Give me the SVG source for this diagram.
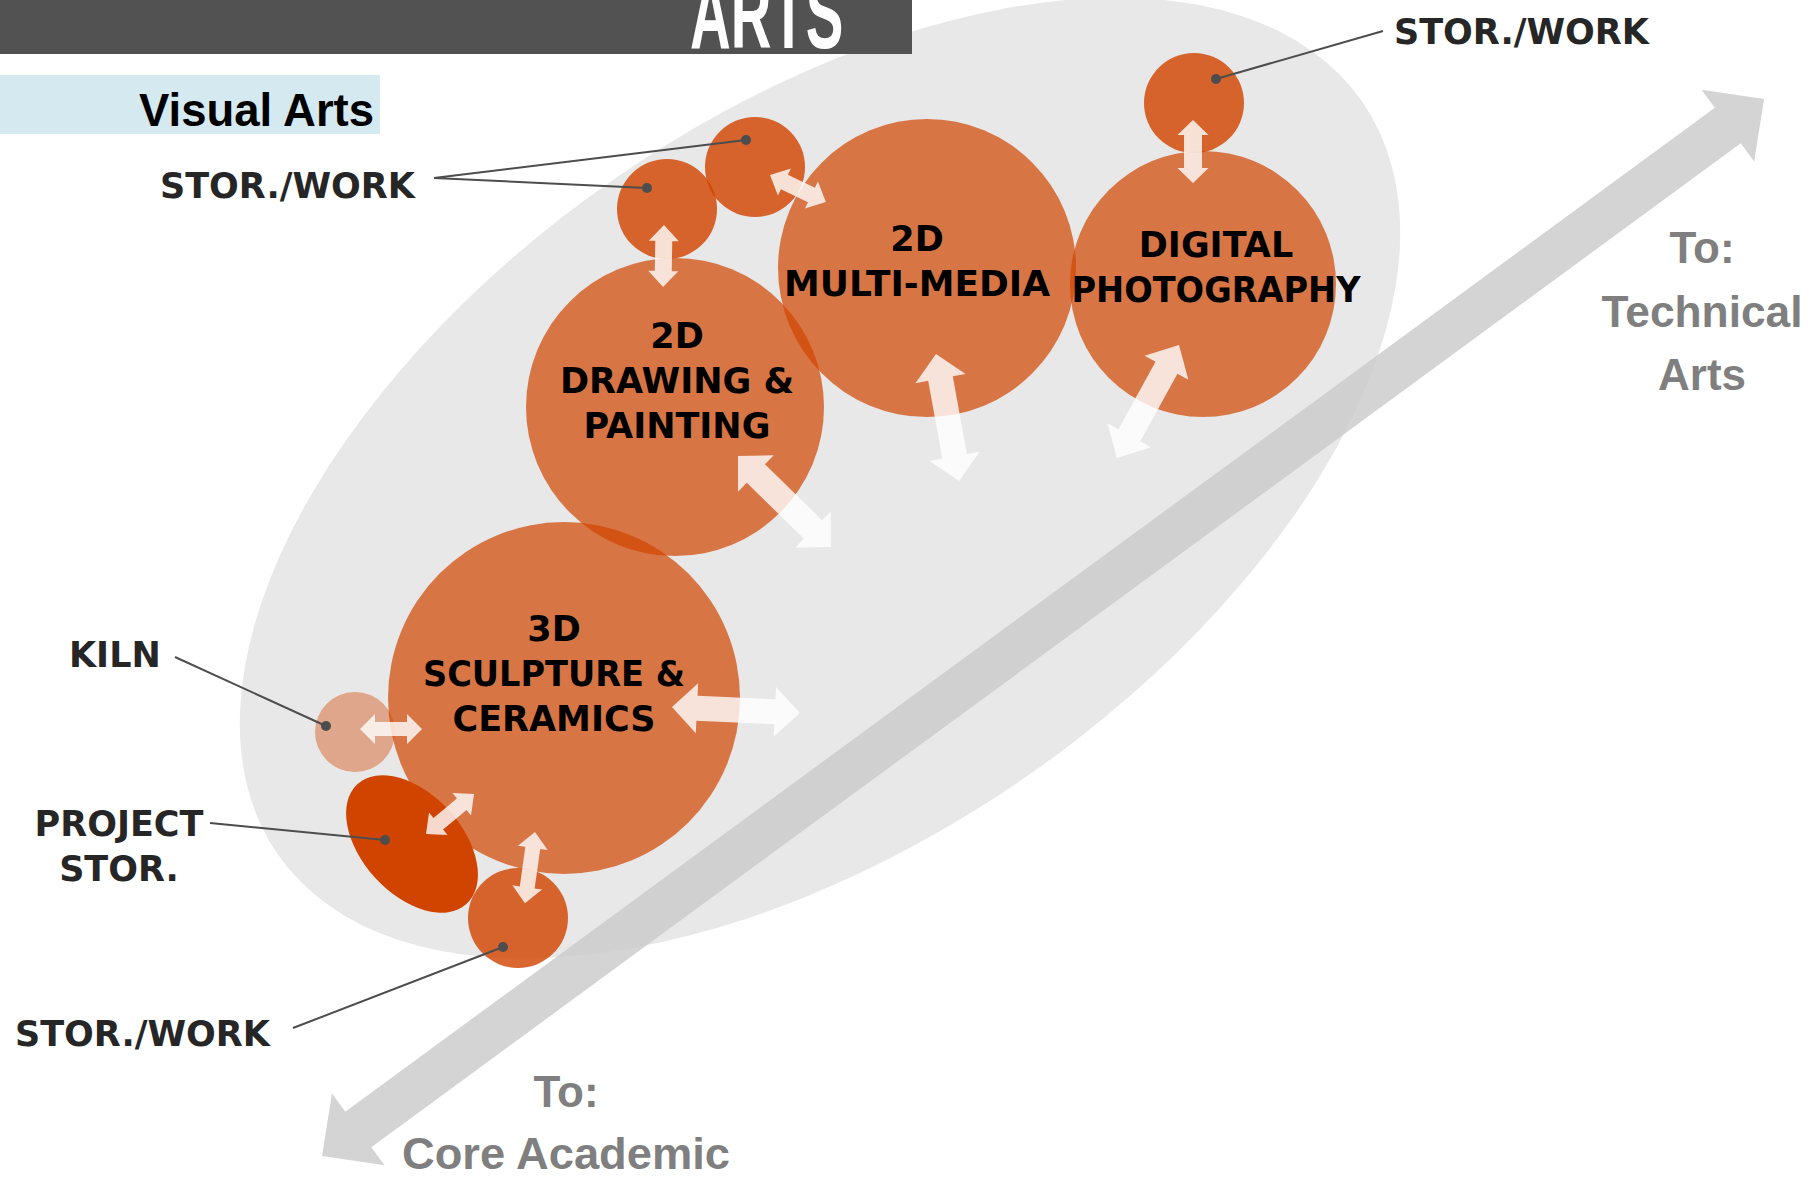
<svg xmlns="http://www.w3.org/2000/svg" width="1818" height="1184" viewBox="0 0 1818 1184">
<style>
.main{font-family:"DejaVu Sans","Liberation Sans",sans-serif;font-weight:bold;font-size:35px;fill:#000;text-anchor:middle}
.lbl{font-family:"DejaVu Sans","Liberation Sans",sans-serif;font-weight:bold;font-size:35px;fill:#262626}
.to{font-family:"Liberation Sans",Arial,sans-serif;font-weight:bold;font-size:44px;fill:#7f7f7f;text-anchor:middle}
.big{fill:#d24400;opacity:0.7}
.small{fill:#d24400;opacity:0.81}
.wa{fill:#ffffff;opacity:0.8}
.lead{stroke:#4d4d4d;stroke-width:2;fill:none}
.dot{fill:#4d4d4d}
</style>
<rect x="0" y="0" width="1818" height="1184" fill="#ffffff"/>
<g id="background">
<ellipse cx="820" cy="478" rx="660" ry="363" transform="rotate(-34.8 820 478)" fill="#e8e8e8"/>
<polygon points="0,0 45,-44.5 45,-22 1743,-22 1743,-44.5 1788,0 1743,44.5 1743,22 45,22 45,44.5" transform="translate(322,1156) rotate(-36.24)" fill="#cbcbcb" opacity="0.83"/>
</g>
<g id="header">
<rect x="0" y="0" width="912" height="54" fill="#525252"/>
<text transform="translate(690,48) scale(0.575,1)" font-family="Liberation Sans,Arial,sans-serif" font-weight="bold" font-size="98" fill="#ffffff">ARTS</text>
<rect x="0" y="75" width="380" height="59" fill="#d5eaf0"/>
<text x="139" y="126" font-family="Liberation Sans,Arial,sans-serif" font-weight="bold" font-size="46" fill="#000" textLength="235" lengthAdjust="spacingAndGlyphs">Visual Arts</text>
</g>
<g id="node-sculpture">
<circle class="big" cx="564" cy="698" r="176"/>
<text class="main" x="554" y="641">3D</text>
<text class="main" x="554" y="686" textLength="262" lengthAdjust="spacingAndGlyphs">SCULPTURE &amp;</text>
<text class="main" x="554" y="731">CERAMICS</text>
</g>
<g id="node-drawing">
<circle class="big" cx="675" cy="407" r="149"/>
<text class="main" x="677" y="348">2D</text>
<text class="main" x="677" y="393" textLength="234" lengthAdjust="spacingAndGlyphs">DRAWING &amp;</text>
<text class="main" x="677" y="438">PAINTING</text>
</g>
<g id="node-multimedia">
<circle class="big" cx="927" cy="268" r="149"/>
<text class="main" x="917" y="251">2D</text>
<text class="main" x="917" y="296" textLength="266" lengthAdjust="spacingAndGlyphs">MULTI-MEDIA</text>
</g>
<g id="node-photo">
<circle class="big" cx="1203" cy="284" r="133"/>
<text class="main" x="1216" y="257">DIGITAL</text>
<text class="main" x="1216" y="302" textLength="289" lengthAdjust="spacingAndGlyphs">PHOTOGRAPHY</text>
</g>
<g id="node-stor-1"><circle class="small" cx="667" cy="209" r="50"/></g>
<g id="node-stor-2"><circle class="small" cx="755" cy="167" r="50"/></g>
<g id="node-stor-3"><circle class="small" cx="1194" cy="103" r="50"/></g>
<g id="node-stor-4"><circle class="small" cx="518" cy="918" r="50"/></g>
<g id="node-kiln"><circle cx="355" cy="732" r="40" fill="#d24400" opacity="0.4"/></g>
<g id="node-project"><ellipse cx="412" cy="844" rx="81" ry="50" transform="rotate(47.6 412 844)" fill="#d04400"/></g>
<g id="connectors">
<polygon class="wa" points="0,0 16,-15 16,-8.5 46,-8.5 46,-15 62,0 46,15 46,8.5 16,8.5 16,15" transform="translate(664,225) rotate(90.9)"/>
<polygon class="wa" points="0,0 16,-15 16,-8 46,-8 46,-15 62,0 46,15 46,8 16,8 16,15" transform="translate(770,175) rotate(25.7)"/>
<polygon class="wa" points="0,0 15,-15.5 15,-9 48,-9 48,-15.5 63,0 48,15.5 48,9 15,9 15,15.5" transform="translate(1193,120) rotate(90)"/>
<polygon class="wa" points="0,0 25,-25.5 25,-12.5 104,-12.5 104,-25.5 129,0 104,25.5 104,12.5 25,12.5 25,25.5" transform="translate(936,354) rotate(79.7)"/>
<polygon class="wa" points="0,0 26,-25 26,-12.5 103,-12.5 103,-25 129,0 103,25 103,12.5 26,12.5 26,25" transform="translate(1179,345) rotate(118.8)"/>
<polygon class="wa" points="0,0 25,-25.5 25,-13 105,-13 105,-25.5 130,0 105,25.5 105,13 25,13 25,25.5" transform="translate(738,456) rotate(44.4)"/>
<polygon class="wa" points="0,0 25,-25 25,-12.5 103,-12.5 103,-25 128,0 103,25 103,12.5 25,12.5 25,25" transform="translate(672,707) rotate(2.7)"/>
<polygon class="wa" points="0,0 15,-15 15,-7 47,-7 47,-15 62,0 47,15 47,7 15,7 15,15" transform="translate(360,729)"/>
<polygon class="wa" points="0,0 16,-14.5 16,-7.5 46.5,-7.5 46.5,-14.5 62.5,0 46.5,14.5 46.5,7.5 16,7.5 16,14.5" transform="translate(426,834) rotate(-39.8)"/>
<polygon class="wa" points="0,0 16,-15 16,-7.5 56,-7.5 56,-15 72,0 56,15 56,7.5 16,7.5 16,15" transform="translate(535,832) rotate(98)"/>
<polyline class="lead" points="746,140 434,178 647,188"/>
<circle class="dot" cx="746" cy="140" r="5"/>
<circle class="dot" cx="647" cy="188" r="5"/>
<line class="lead" x1="1383" y1="31" x2="1216" y2="79"/>
<circle class="dot" cx="1216" cy="79" r="5"/>
<line class="lead" x1="175" y1="657" x2="326" y2="726"/>
<circle class="dot" cx="326" cy="726" r="5"/>
<line class="lead" x1="210" y1="823" x2="385" y2="840"/>
<circle class="dot" cx="385" cy="840" r="5"/>
<line class="lead" x1="293" y1="1028" x2="503" y2="947"/>
<circle class="dot" cx="503" cy="947" r="5"/>
</g>
<g id="labels">
<text class="lbl" x="160" y="198">STOR./WORK</text>
<text class="lbl" x="1394" y="44">STOR./WORK</text>
<text class="lbl" x="69" y="667">KILN</text>
<text class="lbl" x="119" y="836" text-anchor="middle">PROJECT</text>
<text class="lbl" x="119" y="881" text-anchor="middle">STOR.</text>
<text class="lbl" x="15" y="1046">STOR./WORK</text>
<text class="to" x="1702" y="263">To:</text>
<text class="to" x="1702" y="327" textLength="201" lengthAdjust="spacingAndGlyphs">Technical</text>
<text class="to" x="1702" y="390">Arts</text>
<text class="to" x="566" y="1107">To:</text>
<text class="to" x="566" y="1169" textLength="328" lengthAdjust="spacingAndGlyphs">Core Academic</text>
</g>
</svg>
